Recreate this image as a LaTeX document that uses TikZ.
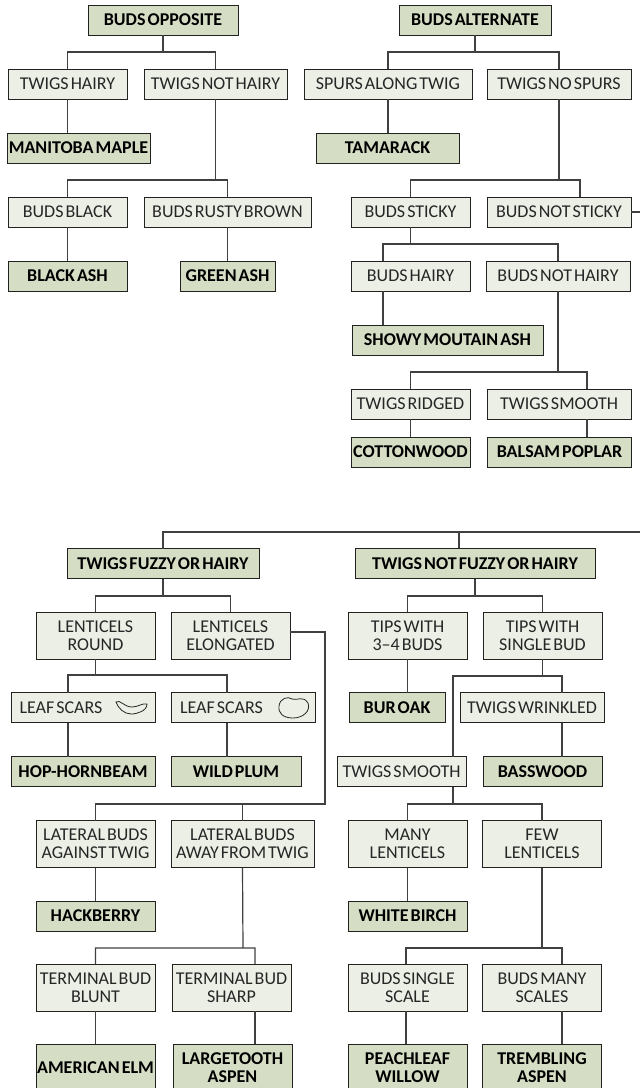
\documentclass[tikz,border=0pt]{standalone}
\usepackage{fontspec}
\setmainfont[WordSpace=0.5]{Carlito}
\usepackage{tikz}
\definecolor{keyfill}{HTML}{D5DEC5}
\definecolor{stepfill}{HTML}{ECEFE6}
\definecolor{keyline}{HTML}{222222}
\tikzset{
  box/.style={draw=keyline, line width=1pt, inner sep=0pt, outer sep=0pt, align=center, minimum height=30pt},
  stepbox/.style={box, fill=stepfill, text=black!85, font=\fontsize{18}{18}\selectfont},
  treebox/.style={box, fill=keyfill, text=black, font=\fontsize{18}{18}\selectfont\bfseries},
  tall/.style={minimum height=47pt},
  link/.style={draw=black!75, line width=1.2pt}
}
\begin{document}
\begin{tikzpicture}[x=1pt,y=-1pt]
  \useasboundingbox (0,0) rectangle (640,1088);
  % buds opposite
  \node (bo) [treebox, minimum width=150pt] at (163,20) {BUDS OPPOSITE};
  \node (twh) [stepbox, minimum width=119pt] at (67.5,84) {TWIGS HAIRY};
  \node (tnh) [stepbox, minimum width=143pt] at (215.5,84) {TWIGS NOT HAIRY};
  \node (mm) [treebox, minimum width=143pt] at (78.5,148) {MANITOBA MAPLE};
  \node (bbl) [stepbox, minimum width=119pt] at (67.5,212) {BUDS BLACK};
  \node (brb) [stepbox, minimum width=167pt] at (227.5,212) {BUDS RUSTY BROWN};
  \node (bash) [treebox, minimum width=119pt] at (67.5,276) {BLACK ASH};
  \node (gash) [treebox, minimum width=95pt] at (227.5,276) {GREEN ASH};
  \coordinate (j1) at (163,52);
  \coordinate (j2) at (215.5,180);
  \path[link] (twh.north) |- (j1) -| (tnh.north) (j1) -- (bo.south);
  \path[link] (twh.south) -- (twh.south |- mm.north);
  \path[link] (bbl.north) |- (j2) -| (brb.north) (j2) -- (tnh.south);
  \path[link] (bbl.south) -- (bash.north);
  \path[link] (brb.south) -- (gash.north);

  % buds alternate
  \node (ba) [treebox, minimum width=152pt] at (475,20) {BUDS ALTERNATE};
  \node (spa) [stepbox, minimum width=168pt] at (388,84) {SPURS ALONG TWIG};
  \node (tns) [stepbox, minimum width=144pt] at (559,84) {TWIGS NO SPURS};
  \node (tam) [treebox, minimum width=143pt] at (387.5,148) {TAMARACK};
  \node (bst) [stepbox, minimum width=119pt] at (410.5,212) {BUDS STICKY};
  \node (bns) [stepbox, minimum width=144pt] at (559,212) {BUDS NOT STICKY};
  \node (bha) [stepbox, minimum width=119pt] at (410.5,276) {BUDS HAIRY};
  \node (bnh) [stepbox, minimum width=144pt] at (558,276) {BUDS NOT HAIRY};
  \node (sma) [treebox, minimum width=191pt] at (447.5,340) {SHOWY MOUTAIN ASH};
  \node (tri) [stepbox, minimum width=119pt] at (410.5,404) {TWIGS RIDGED};
  \node (tsm) [stepbox, minimum width=144pt] at (559,404) {TWIGS SMOOTH};
  \node (cot) [treebox, minimum width=119pt] at (410.5,452) {COTTONWOOD};
  \node (bal) [treebox, minimum width=144pt] at (559.5,452) {BALSAM POPLAR};
  \coordinate (j3) at (475,52);
  \coordinate (j4) at (559,180);
  \coordinate (f4) at (580,180);
  \coordinate (j5) at (410.5,244);
  \coordinate (f5) at (383,244);
  \coordinate (j6) at (558,372);
  \coordinate (f6) at (587,372);
  \coordinate (s1) at (640,212);
  \path[link] (spa.north) |- (j3) -| (tns.north) (j3) -- (ba.south);
  \path[link] (spa.south) -- (spa.south |- tam.north);
  \path[link] (bst.north) |- (j4) -- (f4) -- (f4 |- bns.north) (j4) -- (tns.south);
  \path[link] (bns.east) -- (s1);
  \path[link] (f5 |- bha.north) |- (j5) -| (bnh.north) (j5) -- (bst.south);
  \path[link] (f5 |- bha.south) -- (f5 |- sma.north);
  \path[link] (tri.north) |- (j6) -- (f6) -- (f6 |- tsm.north) (j6) -- (bnh.south);
  \path[link] (tri.south) -- (cot.north);
  \path[link] (f6 |- tsm.south) -- (f6 |- bal.north);

  % twigs fuzzy or hairy
  \node (tfh) [treebox, minimum width=192pt] at (163,563.5) {TWIGS FUZZY OR HAIRY};
  \node (lro) [stepbox, tall, minimum width=119pt] at (95.5,635.5) {LENTICELS\\ROUND};
  \node (lel) [stepbox, tall, minimum width=119pt] at (230.5,635.5) {LENTICELS\\ELONGATED};
  \node (lsa) [stepbox, minimum width=144pt] at (83,707.5) {LEAF SCARS\hspace{44pt}};
  \node (lsb) [stepbox, minimum width=144pt] at (243.5,707.5) {LEAF SCARS\hspace{44pt}};
  \node (hop) [treebox, minimum width=144pt] at (83,771.5) {HOP-HORNBEAM};
  \node (wpl) [treebox, minimum width=130pt] at (236,771.5) {WILD PLUM};
  \node (lag) [stepbox, tall, minimum width=119pt] at (95.5,844) {LATERAL BUDS\\AGAINST TWIG};
  \node (law) [stepbox, tall, minimum width=143pt] at (242.5,844) {LATERAL BUDS\\AWAY FROM TWIG};
  \node (hac) [treebox, minimum width=119pt] at (95.5,916) {HACKBERRY};
  \node (tbl) [stepbox, tall, minimum width=119pt] at (95.5,987.5) {TERMINAL BUD\\BLUNT};
  \node (tsh) [stepbox, tall, minimum width=119pt] at (231.5,987.5) {TERMINAL BUD\\SHARP};
  \node (ael) [treebox, tall, minimum width=119pt] at (95.5,1067.5) {AMERICAN ELM};
  \node (lta) [treebox, tall, minimum width=119pt] at (232.5,1067.5) {LARGETOOTH\\ASPEN};
  \coordinate (e1) at (640,532);
  \coordinate (t1) at (459,532);
  \coordinate (j7) at (163,532);
  \coordinate (j8) at (163,596);
  \coordinate (j9) at (95.5,675);
  \coordinate (f9) at (68,675);
  \coordinate (g9) at (227,675);
  \coordinate (k1) at (325,632);
  \coordinate (k2) at (325,804);
  \coordinate (j10) at (243,948);
  \coordinate (f10) at (255,948);
  \path[link] (e1) -- (j7) -- (tfh.north);
  \path[link] (t1) -- (t1 |- 0,548.5);
  \path[link] (lro.north) |- (j8) -| (lel.north) (j8) -- (tfh.south);
  \path[link] (f9 |- lsa.north) |- (j9) -- (g9) -- (g9 |- lsb.north) (j9) -- (lro.south);
  \path[link] (f9 |- lsa.south) -- (f9 |- hop.north);
  \path[link] (g9 |- lsb.south) -- (g9 |- wpl.north);
  \path[link] (lel.east |- k1) -- (k1) -- (k2) -| (lag.north);
  \path[link] (law.north) -- (law.north |- k2);
  \path[link] (lag.south) -- (hac.north);
  \path[link] (tbl.north) |- (j10) -- (f10) -- (f10 |- tsh.north) (j10) -- (law.south);
  \path[link] (tbl.south) -- (ael.north);
  \path[link] (f10 |- tsh.south) -- (f10 |- lta.north);

  % twigs not fuzzy or hairy
  \node (tnf) [treebox, minimum width=240pt] at (475,563.5) {TWIGS NOT FUZZY OR HAIRY};
  \node (tb3) [stepbox, tall, minimum width=119pt] at (407.5,635.5) {TIPS WITH\\3--4 BUDS};
  \node (tsb) [stepbox, tall, minimum width=119pt] at (542.5,635.5) {TIPS WITH\\SINGLE BUD};
  \node (bur) [treebox, minimum width=96pt] at (397,707.5) {BUR OAK};
  \node (twr) [stepbox, minimum width=144pt] at (532,707.5) {TWIGS WRINKLED};
  \node (tsn) [stepbox, minimum width=129pt] at (401.5,771.5) {TWIGS SMOOTH};
  \node (bas) [treebox, minimum width=119pt] at (542.5,771.5) {BASSWOOD};
  \node (mle) [stepbox, tall, minimum width=119pt] at (407.5,844) {MANY\\LENTICELS};
  \node (fle) [stepbox, tall, minimum width=119pt] at (542,844) {FEW\\LENTICELS};
  \node (wbi) [treebox, minimum width=119pt] at (407.5,916) {WHITE BIRCH};
  \node (bsi) [stepbox, tall, minimum width=119pt] at (407.5,987.5) {BUDS SINGLE\\SCALE};
  \node (bma) [stepbox, tall, minimum width=119pt] at (542,987.5) {BUDS MANY\\SCALES};
  \node (pea) [treebox, tall, minimum width=119pt] at (407.5,1067.5) {PEACHLEAF\\WILLOW};
  \node (tre) [treebox, tall, minimum width=119pt] at (542,1067.5) {TREMBLING\\ASPEN};
  \coordinate (j11) at (475,596);
  \coordinate (j12) at (542.5,676);
  \coordinate (f12) at (453,676);
  \coordinate (g12) at (562,676);
  \coordinate (j13) at (453,804);
  \coordinate (j14) at (542,948);
  \coordinate (f14) at (406,948);
  \coordinate (g14) at (562,948);
  \path[link] (tb3.north) |- (j11) -| (tsb.north) (j11) -- (tnf.south);
  \path[link] (tb3.south) -- (tb3.south |- bur.north);
  \path[link] (f12 |- tsn.north) -- (f12) -- (g12) -- (g12 |- twr.north) (j12) -- (tsb.south);
  \path[link] (g12 |- twr.south) -- (g12 |- bas.north);
  \path[link] (mle.north) |- (j13) -| (fle.north) (j13) -- (j13 |- tsn.south);
  \path[link] (mle.south) -- (wbi.north);
  \path[link] (f14 |- bsi.north) -- (f14) -- (g14) -- (g14 |- bma.north) (j14) -- (fle.south);
  \path[link] (f14 |- bsi.south) -- (f14 |- pea.north);
  \path[link] (g14 |- bma.south) -- (g14 |- tre.north);

  % leaf scars
  \draw[black!85, line width=0.8pt] (116,702) .. controls (120,699) and (124,707) .. (132,707) .. controls (138,707) and (142,703) .. (147,704) .. controls (147,711) and (137,714) .. (131,714) .. controls (124,714) and (118,708) .. (116,702) -- cycle;
  \draw[black!85, line width=0.8pt] (279,706) .. controls (280,698) and (288,696) .. (292,699) .. controls (297,701) and (303,695) .. (308,703) .. controls (311,711) and (303,718) .. (293,718) .. controls (283,718) and (278,713) .. (279,706) -- cycle;
\end{tikzpicture}
\end{document}
